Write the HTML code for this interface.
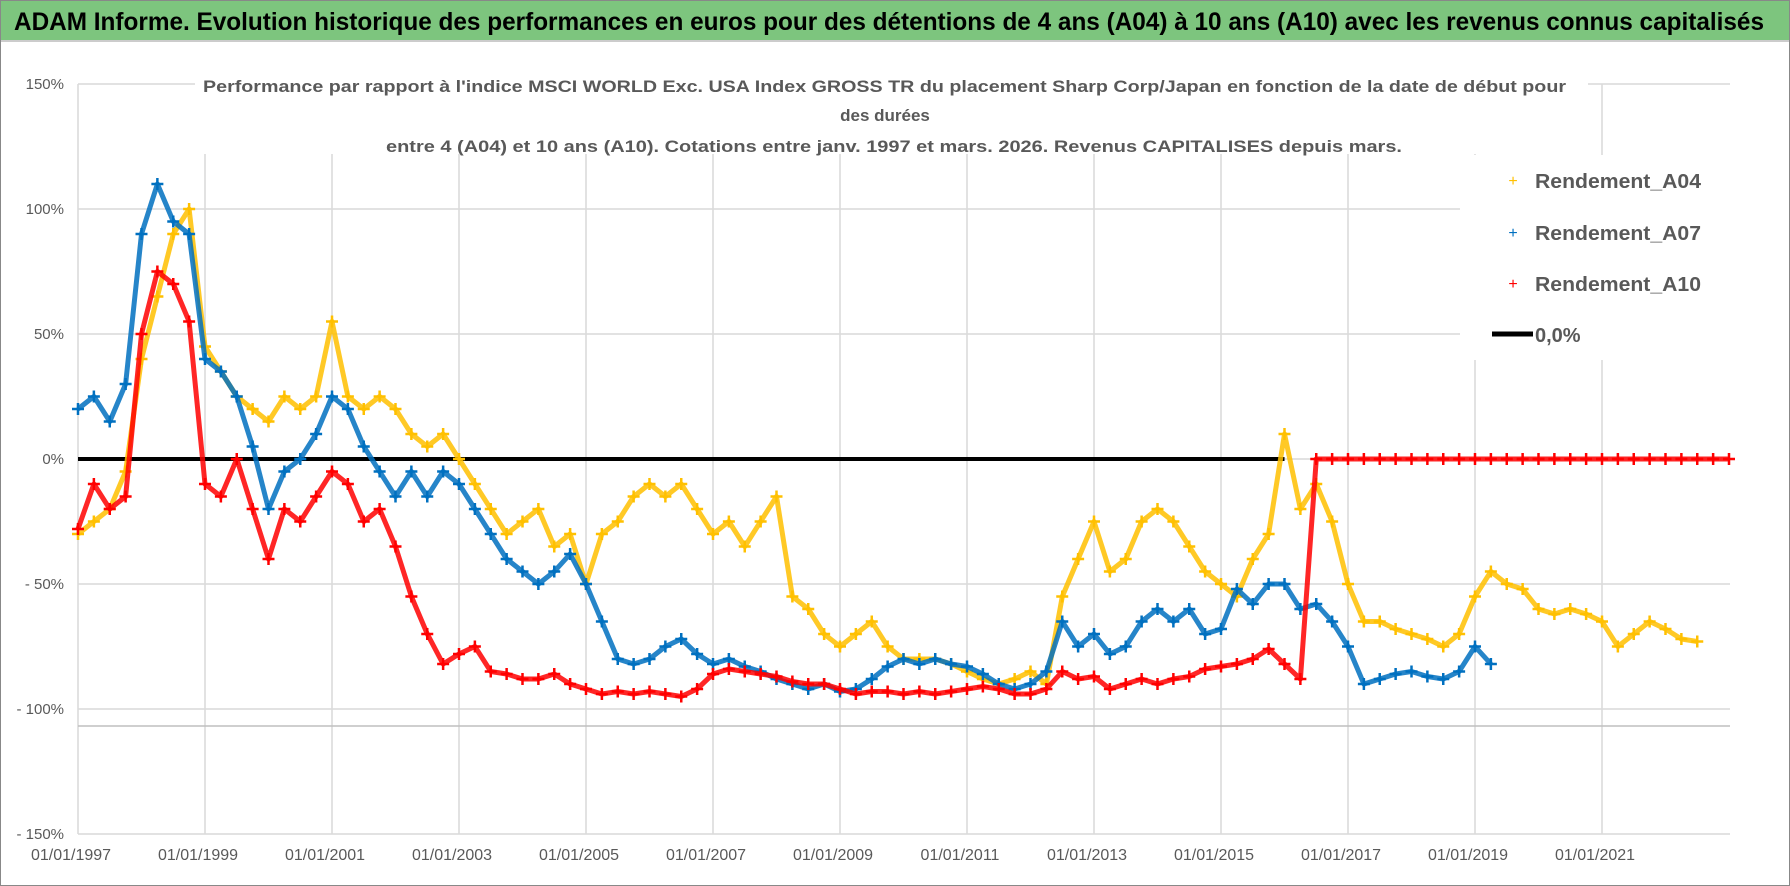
<!DOCTYPE html>
<html><head><meta charset="utf-8"><style>
html,body{margin:0;padding:0;background:#fff}
svg{display:block;font-family:"Liberation Sans",sans-serif}
</style></head><body>
<svg id="chart" width="1790" height="886" viewBox="0 0 1790 886" xmlns="http://www.w3.org/2000/svg">
<rect x="0.5" y="0.5" width="1789" height="885" fill="#fff" stroke="#888"/>
<rect x="1" y="1" width="1788" height="40" fill="#7dc57e"/>
<line x1="1" y1="41" x2="1789" y2="41" stroke="#ccc" stroke-width="2"/>
<text x="14" y="30" font-size="25" font-weight="bold" fill="#000" textLength="1750" lengthAdjust="spacingAndGlyphs">ADAM Informe. Evolution historique des performances en euros pour des détentions de 4 ans (A04) à 10 ans (A10) avec les revenus connus capitalisés</text>
<g id="grid"></g>
<line x1="78" y1="726" x2="1730" y2="726" stroke="#bfbfbf" stroke-width="1.5"/>
<rect x="195" y="62" width="1393" height="92" fill="#fff"/>
<rect x="1460" y="155" width="270" height="205" fill="#fff"/>
<g font-weight="bold" fill="#595959" font-size="17">
<text x="203" y="92" textLength="1363" lengthAdjust="spacingAndGlyphs">Performance par rapport à l'indice MSCI WORLD Exc. USA Index GROSS TR  du placement Sharp Corp/Japan en fonction de la date de début pour</text>
<text x="885" y="121" text-anchor="middle">des durées</text>
<text x="386" y="152" textLength="1016" lengthAdjust="spacingAndGlyphs">entre 4 (A04) et 10 ans (A10).  Cotations entre janv. 1997 et mars. 2026.  Revenus CAPITALISES depuis mars.</text>
</g>
<g id="yaxis"></g>
<g id="xaxis"></g>
<g id="series"></g>
<g id="legend">
<g><text x="1513" y="186" font-size="16" fill="#ffc000" text-anchor="middle">+</text><text x="1535" y="188" font-size="20" font-weight="bold" fill="#595959" textLength="166" lengthAdjust="spacingAndGlyphs">Rendement_A04</text></g>
<g><text x="1513" y="238" font-size="16" fill="#0070c0" text-anchor="middle">+</text><text x="1535" y="240" font-size="20" font-weight="bold" fill="#595959" textLength="166" lengthAdjust="spacingAndGlyphs">Rendement_A07</text></g>
<g><text x="1513" y="289" font-size="16" fill="#ff0000" text-anchor="middle">+</text><text x="1535" y="291" font-size="20" font-weight="bold" fill="#595959" textLength="166" lengthAdjust="spacingAndGlyphs">Rendement_A10</text></g>
<g><line x1="1492" y1="334" x2="1533" y2="334" stroke="#000" stroke-width="5"/><text x="1535" y="342" font-size="20" font-weight="bold" fill="#595959">0,0%</text></g>
</g>
</svg>
<script>
const yTicks=[150,100,50,0,-50,-100,-150];
const yTickLabels=["150%","100%","50%","0%","- 50%","- 100%","- 150%"];
const xTicks=[1997,1999,2001,2003,2005,2007,2009,2011,2013,2015,2017,2019,2021];
const xTickLabels=["01/01/1997","01/01/1999","01/01/2001","01/01/2003","01/01/2005","01/01/2007","01/01/2009","01/01/2011","01/01/2013","01/01/2015","01/01/2017","01/01/2019","01/01/2021"];
const startYear=1997, stepYears=0.25;
const a04=[-30,-25,-20,-5,40,65,90,100,45,35,25,20,15,25,20,25,55,25,20,25,20,10,5,10,0,-10,-20,-30,-25,-20,-35,-30,-50,-30,-25,-15,-10,-15,-10,-20,-30,-25,-35,-25,-15,-55,-60,-70,-75,-70,-65,-75,-80,-80,-80,-82,-85,-88,-90,-88,-85,-90,-55,-40,-25,-45,-40,-25,-20,-25,-35,-45,-50,-55,-40,-30,10,-20,-10,-25,-50,-65,-65,-68,-70,-72,-75,-70,-55,-45,-50,-52,-60,-62,-60,-62,-65,-75,-70,-65,-68,-72,-73];
const a07=[20,25,15,30,90,110,95,90,40,35,25,5,-20,-5,0,10,25,20,5,-5,-15,-5,-15,-5,-10,-20,-30,-40,-45,-50,-45,-38,-50,-65,-80,-82,-80,-75,-72,-78,-82,-80,-83,-85,-88,-90,-92,-90,-93,-92,-88,-83,-80,-82,-80,-82,-83,-86,-90,-92,-90,-85,-65,-75,-70,-78,-75,-65,-60,-65,-60,-70,-68,-52,-58,-50,-50,-60,-58,-65,-75,-90,-88,-86,-85,-87,-88,-85,-75,-82];
const a10=[-28,-10,-20,-15,50,75,70,55,-10,-15,0,-20,-40,-20,-25,-15,-5,-10,-25,-20,-35,-55,-70,-82,-78,-75,-85,-86,-88,-88,-86,-90,-92,-94,-93,-94,-93,-94,-95,-92,-86,-84,-85,-86,-87,-89,-90,-90,-92,-94,-93,-93,-94,-93,-94,-93,-92,-91,-92,-94,-94,-92,-85,-88,-87,-92,-90,-88,-90,-88,-87,-84,-83,-82,-80,-76,-82,-88,0,0,0,0,0,0,0,0,0,0,0,0,0,0,0,0,0,0,0,0,0,0,0,0,0,0,0];
const zeroLineEnd=2016;
const NS="http://www.w3.org/2000/svg";
function X(yr){return 78+(yr-1997)*63.5;}
function Y(v){return 459-v*2.5;}
function mk(tag,attrs,parent){const e=document.createElementNS(NS,tag);for(const k in attrs)e.setAttribute(k,attrs[k]);parent.appendChild(e);return e;}
const grid=document.getElementById('grid');
yTicks.forEach(v=>{const l=mk('line',{x1:78,x2:1730,y1:Y(v),y2:Y(v),stroke:'#d9d9d9','stroke-width':1.5},grid);

});
xTicks.forEach(t=>{const l=mk('line',{x1:X(t),x2:X(t),y1:Y(150),y2:Y(-150),stroke:'#d9d9d9','stroke-width':1.5},grid);

});
const ya=document.getElementById('yaxis');
yTicks.forEach((v,i)=>{const t=mk('text',{x:64,y:Y(v)+5,'text-anchor':'end','font-size':15,fill:'#595959'},ya);t.textContent=yTickLabels[i];

});
const xa=document.getElementById('xaxis');
xTicks.forEach((v,i)=>{const t=mk('text',{x:X(v)-7,y:860,'text-anchor':'middle','font-size':16,fill:'#595959'},xa);t.textContent=xTickLabels[i];

});
const sg=document.getElementById('series');
function drawSeries(vals,color,name){
  const g=mk('g',{},sg);
  
  
  let pts=vals.map((v,i)=>X(startYear+i*stepYears).toFixed(1)+','+Y(v).toFixed(1)).join(' ');
  mk('polyline',{points:pts,fill:'none',stroke:color,'stroke-width':5,'stroke-linejoin':'round','stroke-opacity':0.85},g);
  let d='';
  vals.forEach((v,i)=>{const x=X(startYear+i*stepYears),y=Y(v);d+=`M${x-6},${y}h12M${x},${y-6}v12`;});
  mk('path',{d:d,stroke:color,'stroke-width':2.5,fill:'none'},g);
}
const z=mk('line',{x1:X(1997),x2:X(zeroLineEnd),y1:Y(0),y2:Y(0),stroke:'#000','stroke-width':4},sg);


drawSeries(a04,'#ffc000','series-a04');
drawSeries(a07,'#0070c0','series-a07');
drawSeries(a10,'#ff0000','series-a10');
</script>
</body></html>
